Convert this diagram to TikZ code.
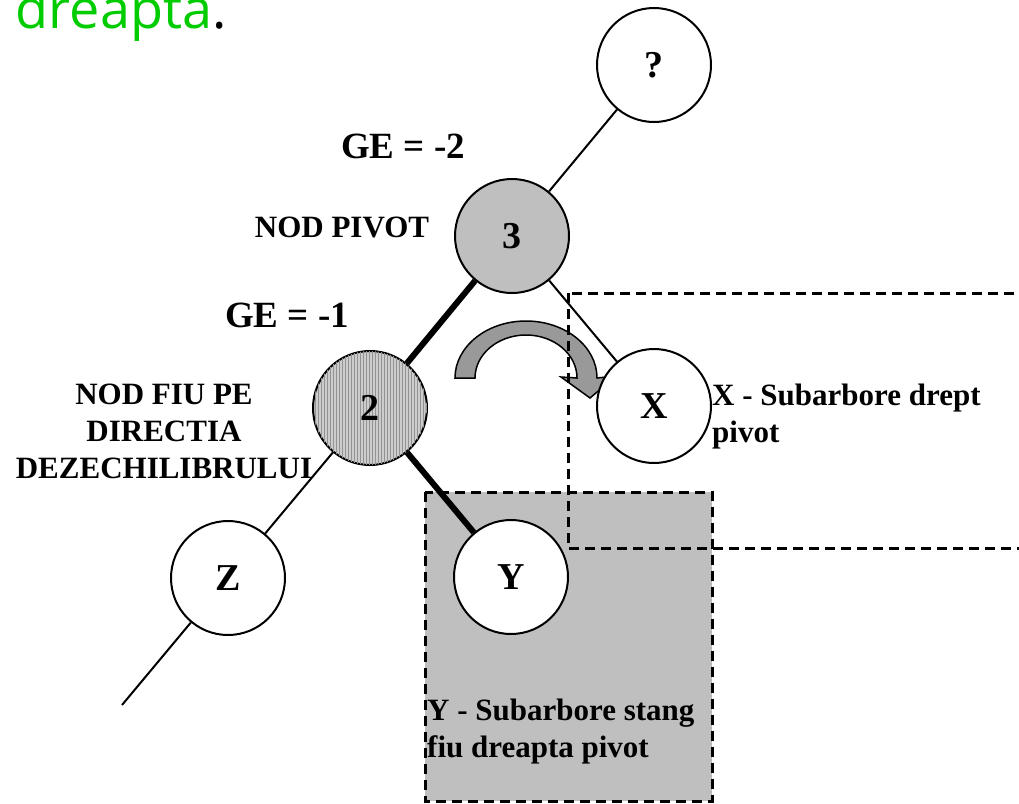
\documentclass[tikz,border=0pt]{standalone}
\usepackage{fontspec}
\setmainfont{Liberation Serif}
\newfontfamily\titlefont{Open Sans}
\usepackage{tikz}
\usetikzlibrary{patterns,calc}
\definecolor{titlegreen}{HTML}{00CC00}
\tikzset{
	treenode/.style={circle, draw, line width=2pt, minimum size=114pt, inner sep=0pt, fill=white, font=\fontsize{38}{38}\selectfont\bfseries},
	thinedge/.style={line width=2pt},
	heavyedge/.style={line width=6pt},
	notetext/.style={font=\fontsize{31}{37}\selectfont\bfseries, inner sep=0pt},
	gelabel/.style={font=\fontsize{37}{37}\selectfont\bfseries, inner sep=0pt},
	subtreebox/.style={line width=3pt, dash pattern=on 10pt off 6pt},
}
\begin{document}
\begin{tikzpicture}[x=1pt, y=-1pt]
		\clip (0,0) rectangle (1019,803);
		\node [anchor=base east, font=\titlefont\fontsize{54}{54}\selectfont, inner sep=0pt](title) at (227,28) {\textcolor{titlegreen}{dreapta}.};
		\draw [subtreebox, fill=gray!50] (425,492) rectangle (712,801);
		\draw [line width=1.5pt, fill=gray!80] (455,378) arc [start angle=-180, end angle=0, x radius=71, y radius=57] -- (616,376) -- (590,398) -- (561,377) -- (577,378) arc [start angle=0, end angle=-180, x radius=51, y radius=43] -- cycle;
		\draw [subtreebox] (568,293) rectangle (1040,548);
		\node [treenode](q) at (654,65) {?};
		\node [treenode, fill=gray!50](n3) at (512,236) {3};
		\node [treenode, fill=gray!40, postaction={pattern=vertical lines, pattern color=gray!85}](n2) at (370,408) {2};
		\node [treenode](x) at (654,406) {X};
		\node [treenode](z) at (228,578) {Z};
		\node [treenode](y) at (511,577) {Y};
		\coordinate (zend) at (122,705);
		\draw [thinedge] (q) -- (n3);
		\draw [heavyedge] (n3) -- (n2);
		\draw [thinedge] (n3) -- (x);
		\draw [thinedge] (n2) -- (z);
		\draw [heavyedge] (n2) -- (y);
		\draw [thinedge] (z) -- (zend);
		\node [gelabel, anchor=base](ge2) at (403,158) {GE = -2};
		\node [notetext, anchor=base](pivotlbl) at (342,237) {NOD PIVOT};
		\node [gelabel, anchor=base](ge1) at (287,327) {GE = -1};
		\node [notetext, align=center, anchor=north](fiulbl) at (164,384) {NOD FIU PE\\DIRECTIA\\DEZECHILIBRULUI};
		\node [notetext, align=left, anchor=north west](xlbl) at (712,384) {X - Subarbore drept\\pivot};
		\node [notetext, align=left, anchor=north west](ylbl) at (427,699) {Y - Subarbore stang\\fiu dreapta pivot};
\end{tikzpicture}
\end{document}
